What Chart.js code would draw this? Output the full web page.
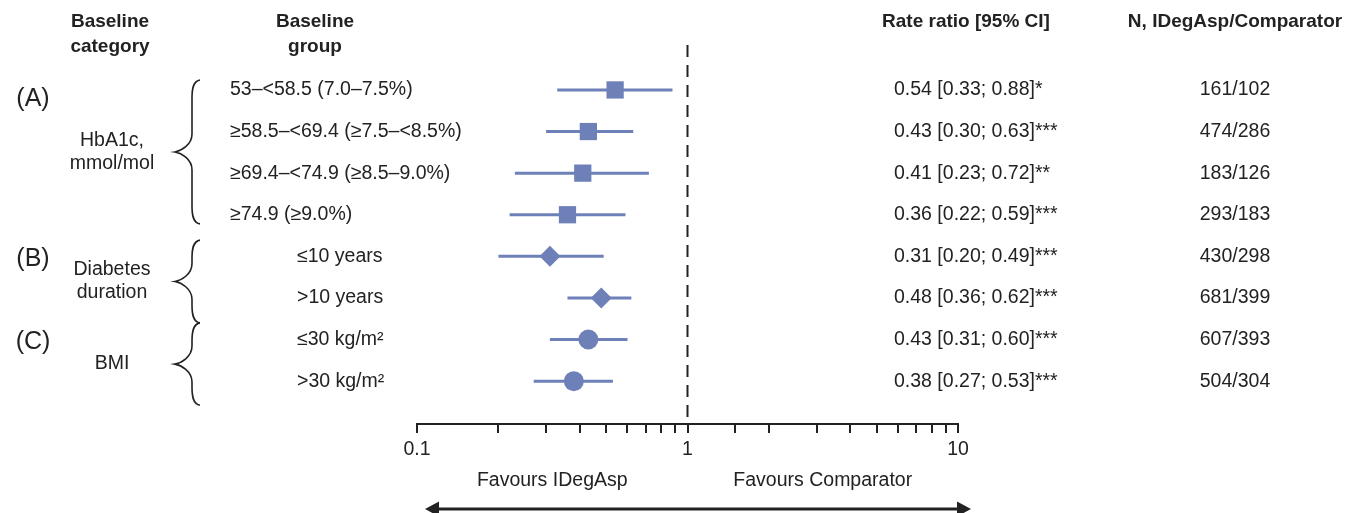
<!DOCTYPE html>
<html>
<head>
<meta charset="utf-8">
<script src="https://cdn.jsdelivr.net/npm/chart.js@4.4.0/dist/chart.umd.min.js"></script>
<style>
  html, body { margin: 0; padding: 0; background: #fff; }
  #wrap { width: 1348px; height: 513px; }
</style>
</head>
<body>
<div id="wrap"><canvas id="forest-chart"></canvas></div>
<script>
// rows, top to bottom
const groupLabels = [
  "53–<58.5 (7.0–7.5%)",
  "≥58.5–<69.4 (≥7.5–<8.5%)",
  "≥69.4–<74.9 (≥8.5–9.0%)",
  "≥74.9 (≥9.0%)",
  "≤10 years",
  ">10 years",
  "≤30 kg/m²",
  ">30 kg/m²",
];
const rateRatio = [0.54, 0.43, 0.41, 0.36, 0.31, 0.48, 0.43, 0.38];
const ciLow = [0.33, 0.30, 0.23, 0.22, 0.20, 0.36, 0.31, 0.27];
const ciHigh = [0.88, 0.63, 0.72, 0.59, 0.49, 0.62, 0.60, 0.53];
const signif = ["*", "***", "**", "***", "***", "***", "***", "***"];
const nIDegAsp = [161, 474, 183, 293, 430, 681, 607, 504];
const nComparator = [102, 286, 126, 183, 298, 399, 393, 304];

// baseline categories
const categoryTags = ["(A)", "(B)", "(C)"];
const categoryNames = [["HbA1c,", "mmol/mol"], ["Diabetes", "duration"], ["BMI"]];
const categoryRows = [[0, 3], [4, 5], [6, 7]];

const tickLabels = [0.1, 1, 10];
const sideLabels = ["Favours IDegAsp", "Favours Comparator"];

const ink = "#222";
const markColor = "#6e80b8";
const font = "'Liberation Sans', Arial, Helvetica, sans-serif";
const yMin = -1.08;
const yMax = 8.03;
const shapes = ["rect", "rectRot", "circle"];
const shapeRadius = { rect: 12.2, rectRot: 10.5, circle: 10 };

function rowShape(i) {
  const c = categoryRows.findIndex((r) => i >= r[0] && i <= r[1]);
  return shapes[c];
}

let datasets = [];

datasets.push({
  label: "rate ratio",
  order: 0,
  data: rateRatio.map((v, i) => ({ x: v, y: i })),
  backgroundColor: markColor,
  borderWidth: 0,
  pointStyle: rateRatio.map((v, i) => rowShape(i)),
  pointRadius: rateRatio.map((v, i) => shapeRadius[rowShape(i)]),
});

for (let i = 0; i < rateRatio.length; i++) {
  datasets.push({
    label: "ci " + i,
    order: 1,
    showLine: true,
    data: [{ x: ciLow[i], y: i }, { x: ciHigh[i], y: i }],
    borderColor: markColor,
    borderWidth: 3,
    pointRadius: 0,
  });
}

datasets.push({
  label: "no effect",
  order: 2,
  showLine: true,
  data: [{ x: 1, y: yMin }, { x: 1, y: yMax }],
  borderColor: ink,
  borderWidth: 2,
  borderDash: [12, 8],
  pointRadius: 0,
});

function drawBrace(ctx, x, y0, y1) {
  const ym = (y0 + y1) / 2;
  const xa = x + 25;
  const xb = x + 17;
  ctx.beginPath();
  ctx.moveTo(xa, y0);
  ctx.bezierCurveTo(xb + 1, y0 + 1, xb, y0 + 9, xb, y0 + 18);
  ctx.lineTo(xb, ym - 18);
  ctx.bezierCurveTo(xb, ym - 7, x + 6, ym - 1, x, ym);
  ctx.bezierCurveTo(x + 6, ym + 1, xb, ym + 7, xb, ym + 18);
  ctx.lineTo(xb, y1 - 18);
  ctx.bezierCurveTo(xb, y1 - 9, xb + 1, y1 - 1, xa, y1);
  ctx.stroke();
}

const tablePlugin = {
  id: "forestTable",
  afterDraw(chart) {
    const ctx = chart.ctx;
    const xs = chart.scales.x;
    const ys = chart.scales.y;
    const area = chart.chartArea;
    ctx.save();
    ctx.fillStyle = ink;
    ctx.strokeStyle = ink;
    ctx.textBaseline = "middle";

    // headers
    ctx.font = "bold 19px " + font;
    ctx.textAlign = "center";
    ctx.fillText("Baseline", 110, 22);
    ctx.fillText("category", 110, 47);
    ctx.fillText("Baseline", 315, 22);
    ctx.fillText("group", 315, 47);
    ctx.fillText("Rate ratio [95% CI]", 966, 22);
    ctx.fillText("N, IDegAsp/Comparator", 1235, 22);

    // rows
    ctx.font = "19.5px " + font;
    for (let i = 0; i < groupLabels.length; i++) {
      const py = ys.getPixelForValue(i);
      ctx.textAlign = "left";
      ctx.fillText(groupLabels[i], i < 4 ? 230 : 297, py);
      const txt = rateRatio[i].toFixed(2) + " [" + ciLow[i].toFixed(2) + "; " + ciHigh[i].toFixed(2) + "]" + signif[i];
      ctx.fillText(txt, 894, py);
      ctx.textAlign = "center";
      ctx.fillText(nIDegAsp[i] + "/" + nComparator[i], 1235, py);
    }

    // braces and category names
    const padTop = [0.24, 0.39, 0.4];
    const padBottom = [0.22, 0.6, 0.58];
    ctx.lineWidth = 1.6;
    for (let c = 0; c < categoryRows.length; c++) {
      const y0 = ys.getPixelForValue(categoryRows[c][0] - padTop[c]);
      const y1 = ys.getPixelForValue(categoryRows[c][1] + padBottom[c]);
      drawBrace(ctx, 175, y0, y1);
      const ym = (y0 + y1) / 2;
      ctx.font = "25px " + font;
      ctx.textAlign = "center";
      ctx.fillText(categoryTags[c], 33, y0 + 19);
      ctx.font = "19.5px " + font;
      const names = categoryNames[c];
      const lh = 23;
      names.forEach((n, k) => {
        ctx.fillText(n, 112, ym + (k - (names.length - 1) / 2) * lh);
      });
    }

    // favours labels and arrow
    ctx.font = "19.5px " + font;
    ctx.textAlign = "center";
    ctx.fillText(sideLabels[0], xs.getPixelForValue(Math.sqrt(0.1)), 481);
    ctx.fillText(sideLabels[1], xs.getPixelForValue(Math.sqrt(10)), 481);

    const ay = 509;
    const ax0 = area.left + 8;
    const ax1 = area.right + 13;
    ctx.lineWidth = 3;
    ctx.beginPath();
    ctx.moveTo(ax0 + 6, ay);
    ctx.lineTo(ax1 - 6, ay);
    ctx.stroke();
    ctx.beginPath();
    ctx.moveTo(ax0, ay);
    ctx.lineTo(ax0 + 14, ay - 7.5);
    ctx.lineTo(ax0 + 14, ay + 7.5);
    ctx.closePath();
    ctx.fill();
    ctx.beginPath();
    ctx.moveTo(ax1, ay);
    ctx.lineTo(ax1 - 14, ay - 7.5);
    ctx.lineTo(ax1 - 14, ay + 7.5);
    ctx.closePath();
    ctx.fill();
    ctx.restore();
  },
};

const ctx = document.getElementById("forest-chart").getContext("2d");
new Chart(ctx, {
  type: "scatter",
  data: { datasets: datasets },
  plugins: [tablePlugin],
  options: {
    responsive: true,
    maintainAspectRatio: false,
    animation: false,
    layout: { padding: { left: 417, right: 390, top: 45, bottom: 0 } },
    plugins: {
      legend: { display: false },
      tooltip: { enabled: false },
    },
    scales: {
      x: {
        type: "logarithmic",
        min: 0.1,
        max: 10,
        afterFit: (scale) => {
          scale.height = 89;
        },
        border: { display: true, color: ink, width: 2 },
        grid: {
          drawOnChartArea: false,
          drawTicks: true,
          tickLength: 9,
          color: ink,
          lineWidth: 2,
        },
        ticks: {
          autoSkip: false,
          maxRotation: 0,
          padding: 5,
          color: ink,
          font: { size: 19.5, family: font },
          callback: (v) => (tickLabels.some((t) => Math.abs(t - v) < 1e-9) ? String(v) : ""),
        },
      },
      y: {
        type: "linear",
        reverse: true,
        min: yMin,
        max: yMax,
        display: false,
      },
    },
  },
});
</script>
</body>
</html>
